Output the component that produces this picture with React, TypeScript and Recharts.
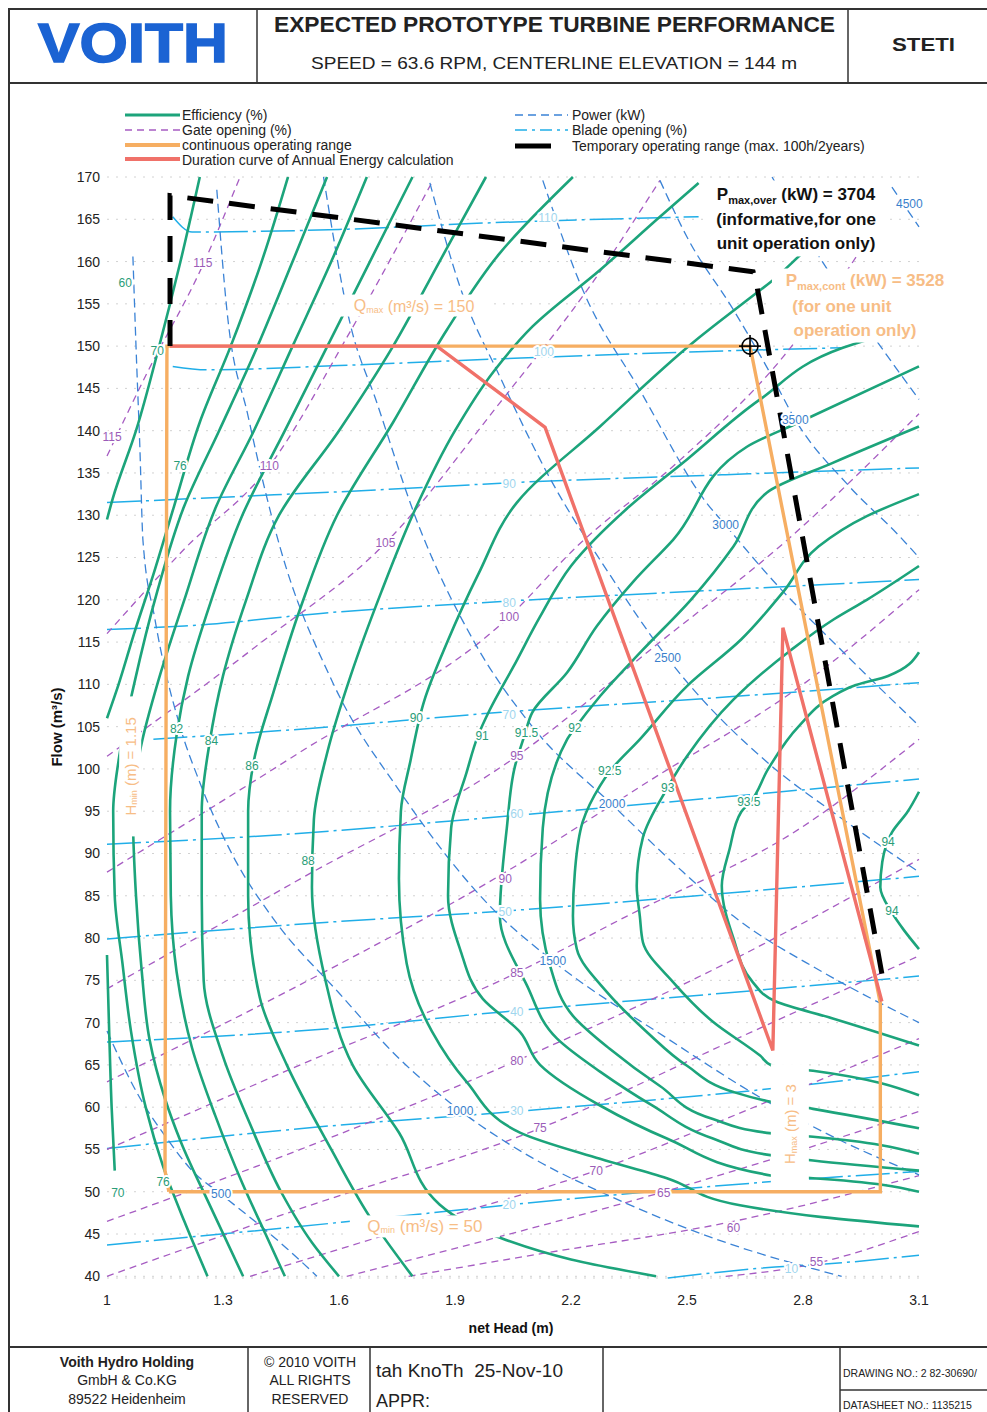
import React from 'react'
import {
  CartesianGrid,
  ComposedChart,
  Line,
  ReferenceDot,
  Scatter,
  XAxis,
  YAxis,
} from 'recharts'

type P = [number, number] // [net head (m), flow (m3/s)]

const headTicks = [1, 1.3, 1.6, 1.9, 2.2, 2.5, 2.8, 3.1]
const flowTicks = [40, 45, 50, 55, 60, 65, 70, 75, 80, 85, 90, 95, 100, 105, 110, 115, 120, 125, 130, 135, 140, 145, 150, 155, 160, 165, 170]

// efficiency contours (%)
const eff70a: P[] = [[1.24, 170], [1.19, 160], [1.135, 150], [1.075, 140], [1.015, 132], [1.0, 129.5]]
const eff70b: P[] = [[1.0, 78], [1.005, 70], [1.012, 60], [1.02, 52.5]]
const eff76: P[] = [[1.468, 170], [1.4, 160], [1.32, 150], [1.24, 141], [1.173, 131], [1.12, 123], [1.07, 116], [1.03, 110], [1.0, 106]]
const eff78: P[] = [[1.569, 170], [1.48, 160], [1.38, 149], [1.29, 140], [1.199, 131], [1.13, 121], [1.07, 110], [1.03, 101], [1.016, 95], [1.02, 85], [1.04, 77], [1.062, 69], [1.1, 60], [1.145, 53], [1.2, 46.5], [1.26, 40]]
const eff80: P[] = [[1.672, 170], [1.58, 160], [1.48, 150], [1.38, 140], [1.282, 131], [1.2, 120], [1.13, 110], [1.085, 102], [1.067, 95], [1.075, 85], [1.09, 76], [1.11, 68], [1.15, 61], [1.19, 56], [1.27, 48], [1.352, 40]]
const eff82: P[] = [[1.79, 170], [1.68, 160], [1.57, 150], [1.46, 140], [1.35, 130], [1.27, 120], [1.21, 111], [1.18, 104], [1.163, 95], [1.165, 85], [1.18, 76], [1.22, 67], [1.28, 59], [1.35, 51], [1.41, 45], [1.46, 40]]
const eff84: P[] = [[1.98, 170], [1.86, 160], [1.74, 150], [1.6, 140], [1.445, 130], [1.36, 120], [1.3, 111], [1.265, 103], [1.245, 95], [1.245, 85], [1.25, 75], [1.3, 66], [1.37, 58], [1.45, 50], [1.53, 44], [1.6, 40]]
const eff86: P[] = [[2.205, 170], [2.016, 161], [1.88, 152], [1.74, 141], [1.595, 130], [1.5, 119], [1.43, 109], [1.38, 101], [1.365, 95], [1.365, 85], [1.395, 73], [1.465, 65], [1.58, 55], [1.68, 47], [1.79, 40]]
const eff88: P[] = [[2.53, 169.3], [2.43, 165.3], [2.275, 159], [2.1, 152.3], [2.0, 147], [1.9, 140], [1.8, 131], [1.71, 121], [1.63, 111], [1.57, 102], [1.535, 94], [1.53, 86], [1.565, 75], [1.635, 65], [1.755, 57], [1.86, 48.5], [2.02, 44.5], [2.2, 42], [2.42, 40]]
const eff90: P[] = [[3.0, 166.5], [2.9, 164.3], [2.714, 157.5], [2.515, 150.4], [2.275, 140.5], [2.06, 131.5], [1.96, 123], [1.88, 115], [1.82, 108], [1.785, 101], [1.76, 95], [1.755, 87], [1.775, 77], [1.84, 69], [1.93, 63], [2.068, 57], [2.275, 53.9], [2.448, 51.6], [2.637, 48.4], [2.85, 47], [3.1, 45.9]]
const eff91: P[] = [[3.1, 152.5], [2.903, 149.8], [2.689, 143.7], [2.5, 136.6], [2.35, 131], [2.2, 124], [2.12, 118], [2.05, 112], [1.99, 107], [1.96, 104], [1.93, 99.6], [1.89, 93], [1.882, 85], [1.913, 78.7], [1.972, 72.8], [2.068, 68.9], [2.12, 65], [2.275, 60.2], [2.448, 56.3], [2.72, 51.9], [2.826, 51.6], [3.1, 50]]
const eff915: P[] = [[3.1, 147.6], [2.79, 141], [2.655, 138.1], [2.464, 127.1], [2.36, 122.1], [2.267, 116.9], [2.19, 111.4], [2.1, 106.7], [2.08, 104], [2.055, 100.3], [2.034, 93], [2.016, 82.6], [2.086, 74.4], [2.164, 68.1], [2.275, 64.2], [2.41, 60.2], [2.567, 56.3], [2.72, 54.3], [2.826, 53.7], [3.1, 52.5]]
const eff92: P[] = [[3.1, 140.5], [2.877, 136.2], [2.707, 132.7], [2.62, 126.3], [2.51, 120], [2.386, 114.1], [2.275, 108.6], [2.21, 104.8], [2.19, 103.5], [2.127, 93], [2.12, 84.6], [2.146, 76.7], [2.205, 70.8], [2.3, 66.9], [2.43, 62.5], [2.567, 58.6], [2.72, 56.9], [2.826, 56.5], [3.1, 54.5]]
const eff925: P[] = [[3.1, 132.5], [2.965, 129.9], [2.84, 126.3], [2.75, 121], [2.64, 115.3], [2.5, 109.8], [2.378, 103.5], [2.3, 99.7], [2.275, 98], [2.23, 93.7], [2.21, 87.8], [2.205, 82.6], [2.215, 78.7], [2.293, 73.6], [2.396, 68.9], [2.5, 64.9], [2.62, 61.8], [2.72, 60.6], [2.826, 59.8], [3.1, 57.5]]
const eff93: P[] = [[3.1, 124], [2.965, 120], [2.88, 117.7], [2.77, 114.1], [2.62, 108.2], [2.5, 101.5], [2.45, 97.8], [2.386, 91.9], [2.37, 86.2], [2.378, 82.6], [2.386, 79.5], [2.464, 74.8], [2.567, 70.1], [2.689, 66.1], [2.72, 64.9], [2.826, 64.3], [3.1, 61.4]]
const eff935: P[] = [[3.1, 113.8], [3.02, 111], [2.93, 109.8], [2.877, 108.6], [2.79, 105.1], [2.71, 100], [2.664, 96.1], [2.64, 94.9], [2.61, 90.5], [2.59, 86.2], [2.62, 80], [2.67, 74.8], [2.73, 72.5], [2.877, 70.5], [3.1, 67.3]]
const eff94: P[] = [[3.1, 97.3], [3.07, 94.9], [3.03, 92.5], [3.005, 89], [3.0, 86], [3.03, 83], [3.06, 81], [3.1, 78.7]]

// gate opening (%)
const gate55: P[] = [[2.6, 40], [2.82, 41.4], [3.1, 45.3]]
const gate60: P[] = [[1.78, 40], [2.1, 42.5], [2.62, 46.5], [3.1, 51.9]]
const gate65: P[] = [[1.62, 40], [2.0, 44.5], [2.44, 50], [2.8, 55], [3.1, 59.5]]
const gate70: P[] = [[1.37, 40], [1.8, 46], [2.265, 52.5], [2.7, 60.5], [3.1, 68.1]]
const gate75: P[] = [[1.0, 40], [1.5, 48], [2.12, 57.5], [2.6, 67.5], [3.1, 77.9]]
const gate80: P[] = [[1.0, 46.5], [1.5, 55], [2.06, 65.5], [2.6, 77], [3.1, 89.3]]
const gate85: P[] = [[1.0, 55], [1.5, 65], [2.06, 75.9], [2.345, 82.6], [2.79, 92.9], [3.1, 103.5]]
const gate90: P[] = [[1.0, 63], [1.5, 74.5], [2.02, 87.5], [2.41, 98.8], [2.8, 110], [3.1, 121.2]]
const gate95: P[] = [[1.0, 74], [1.5, 87], [2.05, 101.2], [2.43, 115], [2.76, 127.1], [3.1, 142]]
const gate100: P[] = [[1.0, 87.8], [1.5, 102], [2.04, 118], [2.215, 126.3], [2.474, 136.2], [2.748, 148.7], [2.9, 158], [3.0, 165]]
const gate105: P[] = [[1.0, 101.5], [1.4, 115], [1.72, 126.7], [2.016, 143.3], [2.26, 157.8], [2.43, 169.6]]
const gate110: P[] = [[1.0, 116], [1.2, 126], [1.42, 135.8], [1.62, 151], [1.843, 169.6]]
const gate115: P[] = [[1.0, 137], [1.1, 146.5], [1.25, 159.8], [1.344, 170]]

// power (kW)
const pow500: P[] = [[1.0, 69], [1.08, 61.5], [1.155, 56.3], [1.22, 52.5], [1.295, 49.7], [1.396, 46], [1.465, 43.3], [1.543, 40]]
const pow1000: P[] = [[1.067, 160.6], [1.075, 150], [1.085, 138], [1.093, 127], [1.124, 117.7], [1.189, 105], [1.24, 98.4], [1.326, 89.7], [1.43, 82.3], [1.6, 73.5], [1.75, 66], [1.913, 59.6], [2.1, 54], [2.3, 49.5], [2.6, 44], [2.9, 40]]
const pow1500: P[] = [[1.284, 168.5], [1.31, 154.3], [1.365, 141.7], [1.447, 126.3], [1.584, 110.2], [1.758, 97.3], [1.99, 83.8], [2.153, 77.3], [2.45, 68.1], [2.71, 60.6], [2.9, 56], [3.1, 52]]
const pow2000: P[] = [[1.56, 170], [1.628, 152.8], [1.698, 143.3], [1.8, 129.5], [1.95, 115], [2.1, 105], [2.306, 95.8], [2.49, 87.8], [2.62, 82.6], [2.85, 76], [3.1, 70]]
const pow2500: P[] = [[1.835, 169.3], [1.913, 157], [2.016, 146.4], [2.15, 134], [2.3, 123], [2.45, 113.1], [2.72, 100.3], [2.877, 94.9], [3.1, 87.8]]
const pow3000: P[] = [[2.127, 169.6], [2.23, 156.7], [2.378, 144.8], [2.55, 131.5], [2.6, 128.8], [2.72, 122.4], [2.9, 114], [3.1, 105.1]]
const pow3500: P[] = [[2.43, 169.6], [2.5, 162.9], [2.62, 154.3], [2.72, 146.4], [2.78, 141.3], [2.92, 133.4], [3.05, 127.5], [3.1, 125]]
const pow4000: P[] = [[2.72, 170], [2.85, 160], [3.0, 150], [3.1, 143.7]]
const pow4500: P[] = [[3.03, 168.8], [3.1, 164.1]]

// blade opening (%)
const blade10: P[] = [[2.45, 39.8], [2.76, 41.2], [2.84, 41.4], [3.1, 42.5]]
const blade20: P[] = [[1.0, 43.7], [1.63, 46.5], [2.03, 48.4], [2.72, 51.2], [3.1, 52.4]]
const blade30: P[] = [[1.0, 55.1], [1.58, 57.8], [2.03, 59.4], [2.72, 62.2], [3.1, 64.2]]
const blade40: P[] = [[1.0, 67.7], [1.58, 69.3], [2.03, 71.3], [2.6, 73.5], [3.1, 75.5]]
const blade50: P[] = [[1.0, 79.9], [1.58, 81.9], [2.03, 83.2], [2.6, 85.3], [3.1, 87.3]]
const blade60: P[] = [[1.0, 91.1], [1.41, 92.1], [2.03, 94.4], [2.6, 96.7], [3.1, 98.8]]
const blade70: P[] = [[1.12, 103.5], [1.5, 104.7], [2.02, 106.7], [2.6, 108.5], [3.1, 110.2]]
const blade80: P[] = [[1.0, 116.5], [1.2, 116.9], [1.58, 118.5], [2.02, 119.8], [2.6, 121.2], [3.1, 122.4]]
const blade90: P[] = [[1.0, 131.5], [1.33, 132.2], [1.7, 133], [2.07, 133.9], [2.6, 134.8], [3.1, 135.6]]
const blade100: P[] = [[1.17, 147.6], [1.26, 147.2], [1.6, 147.7], [2.07, 148.6], [2.5, 149.3], [2.9, 149.8]]
const blade110: P[] = [[1.17, 165.3], [1.22, 163.5], [1.6, 163.8], [2.0, 164.6], [2.53, 165.3]]

// operating ranges
const contRange: P[] = [[1.16, 50], [1.15, 52.5], [1.155, 150], [2.663, 150], [3.0, 72.3], [3.0, 50], [1.16, 50]]
const tempRange: P[] = [[1.163, 150], [1.163, 167.8], [2.671, 158.8], [2.68, 157.3], [3.004, 75.8]]
const durationCurve: P[] = [[1.163, 150], [1.853, 150], [2.133, 140.4], [2.722, 66.7], [2.748, 116.7], [3.004, 72.5]]

// contour labels
const effLabels = [
  { h: 1.13, q: 149.4, t: '70' }, { h: 1.189, q: 135.8, t: '76' }, { h: 1.18, q: 104.7, t: '82' },
  { h: 1.27, q: 103.3, t: '84' }, { h: 1.375, q: 100.3, t: '86' }, { h: 1.52, q: 89.1, t: '88' },
  { h: 1.8, q: 106, t: '90' }, { h: 1.97, q: 103.9, t: '91' }, { h: 2.085, q: 104.3, t: '91.5' },
  { h: 2.21, q: 104.8, t: '92' }, { h: 2.3, q: 99.7, t: '92.5' }, { h: 2.45, q: 97.8, t: '93' },
  { h: 2.66, q: 96.1, t: '93.5' }, { h: 3.02, q: 91.4, t: '94' }, { h: 3.03, q: 83.2, t: '94' },
  { h: 1.028, q: 49.8, t: '70' }, { h: 1.145, q: 51.2, t: '76' }, { h: 1.047, q: 157.5, t: '60' },
]
const gateLabels = [
  { h: 1.013, q: 139.3, t: '115' }, { h: 1.248, q: 159.8, t: '115' }, { h: 1.42, q: 135.8, t: '110' },
  { h: 1.72, q: 126.7, t: '105' }, { h: 2.04, q: 118, t: '100' }, { h: 2.06, q: 101.5, t: '95' },
  { h: 2.03, q: 87, t: '90' }, { h: 2.06, q: 75.9, t: '85' }, { h: 2.06, q: 65.5, t: '80' },
  { h: 2.12, q: 57.5, t: '75' }, { h: 2.265, q: 52.5, t: '70' }, { h: 2.44, q: 49.8, t: '65' },
  { h: 2.62, q: 45.7, t: '60' }, { h: 2.835, q: 41.7, t: '55' },
]
const powerLabels = [
  { h: 1.295, q: 49.7, t: '500' }, { h: 1.913, q: 59.6, t: '1000' }, { h: 2.153, q: 77.3, t: '1500' },
  { h: 2.306, q: 95.8, t: '2000' }, { h: 2.45, q: 113.1, t: '2500' }, { h: 2.6, q: 128.8, t: '3000' },
  { h: 2.78, q: 141.3, t: '3500' }, { h: 3.075, q: 166.8, t: '4500' },
]
const bladeLabels = [
  { h: 2.14, q: 165.2, t: '110' }, { h: 2.13, q: 149.3, t: '100' }, { h: 2.04, q: 133.7, t: '90' },
  { h: 2.04, q: 119.6, t: '80' }, { h: 2.04, q: 106.4, t: '70' }, { h: 2.06, q: 94.7, t: '60' },
  { h: 2.03, q: 83.1, t: '50' }, { h: 2.06, q: 71.3, t: '40' }, { h: 2.06, q: 59.6, t: '30' },
  { h: 2.04, q: 48.4, t: '20' }, { h: 2.77, q: 40.9, t: '10' },
]

const effCurves = [eff70a, eff70b, eff76, eff78, eff80, eff82, eff84, eff86, eff88, eff90, eff91, eff915, eff92, eff925, eff93, eff935, eff94]
const gateCurves = [gate55, gate60, gate65, gate70, gate75, gate80, gate85, gate90, gate95, gate100, gate105, gate110, gate115]
const powerCurves = [pow500, pow1000, pow1500, pow2000, pow2500, pow3000, pow3500, pow4000, pow4500]
const bladeCurves = [blade10, blade20, blade30, blade40, blade50, blade60, blade70, blade80, blade90, blade100, blade110]

const FONT = '"Liberation Sans", Arial, Helvetica, sans-serif'
const GREEN = '#1ca47b'
const PURPLE = '#a65cc2'
const BLUE = '#3b83d6'
const CYAN = '#20aee8'
const ORANGE = '#f6ae62'
const ORANGE_TXT = '#f7bd86'
const RED = '#f07169'

const toPts = (a: P[]) => a.map(([h, q]) => ({ h, q }))

const textShape = (fill: string, size: number) => (props: any) => (
  <text
    x={props.cx}
    y={props.cy}
    textAnchor="middle"
    dominantBaseline="central"
    fill={fill}
    fontSize={size}
    fontFamily={FONT}
    stroke="#fff"
    strokeWidth={4}
    strokeLinejoin="round"
    style={{ paintOrder: 'stroke' }}
  >
    {props.payload.t}
  </text>
)

const Sheet = () => (
  <svg width={987} height={1412} style={{ position: 'absolute', left: 0, top: 0 }} fontFamily={FONT}>
    {/* frame */}
    <g stroke="#333" strokeWidth={2}>
      <line x1={8} y1={9} x2={987} y2={9} />
      <line x1={9} y1={8} x2={9} y2={1412} />
      <line x1={8} y1={83} x2={987} y2={83} />
      <line x1={257} y1={9} x2={257} y2={83} strokeWidth={1.5} />
      <line x1={848} y1={9} x2={848} y2={83} strokeWidth={1.5} />
      <line x1={8} y1={1347} x2={987} y2={1347} />
      <line x1={248} y1={1347} x2={248} y2={1412} strokeWidth={1.5} />
      <line x1={370} y1={1347} x2={370} y2={1412} strokeWidth={1.5} />
      <line x1={603} y1={1347} x2={603} y2={1412} strokeWidth={1.5} />
      <line x1={840} y1={1347} x2={840} y2={1412} strokeWidth={1.5} />
      <line x1={840} y1={1390} x2={987} y2={1390} strokeWidth={1.5} />
    </g>

    {/* header */}
    <text x={38} y={62} fontSize={55} fontWeight="bold" fill="#1b63d3" stroke="#1b63d3" strokeWidth={1.5} textLength={190} lengthAdjust="spacingAndGlyphs">VOITH</text>
    <text x={274} y={32} fontSize={22} fontWeight="bold" fill="#222" textLength={561} lengthAdjust="spacingAndGlyphs">EXPECTED PROTOTYPE TURBINE PERFORMANCE</text>
    <text x={311} y={69} fontSize={17} fill="#222" textLength={486} lengthAdjust="spacingAndGlyphs">SPEED = 63.6 RPM, CENTERLINE ELEVATION = 144 m</text>
    <text x={892} y={51} fontSize={19} fontWeight="bold" fill="#222" textLength={63} lengthAdjust="spacingAndGlyphs">STETI</text>

    {/* legend */}
    <line x1={125} x2={180} y1={115} y2={115} stroke={GREEN} strokeWidth={3} />
    <line x1={125} x2={180} y1={130} y2={130} stroke={PURPLE} strokeWidth={1.5} strokeDasharray="7 5" />
    <line x1={125} x2={180} y1={145} y2={145} stroke={ORANGE} strokeWidth={4} />
    <line x1={125} x2={180} y1={159} y2={159} stroke={RED} strokeWidth={4} />
    <g fontSize={14} fill="#222">
      <text x={182} y={120}>Efficiency (%)</text>
      <text x={182} y={135}>Gate opening (%)</text>
      <text x={182} y={150}>continuous operating range</text>
      <text x={182} y={165}>Duration curve of Annual Energy calculation</text>
      <text x={572} y={120}>Power (kW)</text>
      <text x={572} y={135}>Blade opening (%)</text>
      <text x={572} y={151}>Temporary operating range (max. 100h/2years)</text>
    </g>
    <line x1={515} x2={568} y1={115} y2={115} stroke={BLUE} strokeWidth={1.5} strokeDasharray="8 5" />
    <line x1={515} x2={568} y1={130} y2={130} stroke={CYAN} strokeWidth={1.5} strokeDasharray="12 5 3 5" />
    <line x1={515} x2={551} y1={146} y2={146} stroke="#000" strokeWidth={5} />

    {/* axis titles */}
    <text x={62} y={727} fontSize={15} fontWeight="bold" fill="#111" textAnchor="middle" transform="rotate(-90 62 727)">Flow (m³/s)</text>
    <text x={511} y={1333} fontSize={14} fontWeight="bold" fill="#111" textAnchor="middle">net Head (m)</text>

    {/* footer */}
    <g fontSize={14} fill="#222" textAnchor="middle">
      <text x={127} y={1367} fontWeight="bold">Voith Hydro Holding</text>
      <text x={127} y={1385}>GmbH &amp; Co.KG</text>
      <text x={127} y={1404}>89522 Heidenheim</text>
      <text x={310} y={1367}>© 2010 VOITH</text>
      <text x={310} y={1385}>ALL RIGHTS</text>
      <text x={310} y={1404}>RESERVED</text>
    </g>
    <text x={376} y={1377} fontSize={19} fill="#222">tah KnoTh{'\u00a0\u00a0'}25-Nov-10</text>
    <text x={376} y={1407} fontSize={18} fill="#222">APPR:</text>
    <text x={843} y={1377} fontSize={10.5} fill="#222">DRAWING NO.: 2 82-30690/</text>
    <text x={843} y={1409} fontSize={10.5} fill="#222">DATASHEET NO.: 1135215</text>
  </svg>
)

const boxText = (w: number, hgt: number, content: React.ReactNode, rotate = false) => (p: any) => (
  <g transform={rotate ? `rotate(-90 ${p.cx} ${p.cy})` : undefined}>
    <rect x={p.cx - w / 2} y={p.cy - hgt / 2} width={w} height={hgt} fill="#fff" />
    <g transform={`translate(${p.cx} ${p.cy})`}>{content}</g>
  </g>
)

export default function App() {
  return (
    <div style={{ position: 'absolute', left: 0, top: 0, width: 987, height: 1412, background: '#fff', overflow: 'hidden' }}>
      <Sheet />
      <div style={{ position: 'absolute', left: 0, top: 0 }}>
        <ComposedChart width={987} height={1340} margin={{ top: 177, right: 68, bottom: 22, left: 67 }}>
          <CartesianGrid vertical={false} stroke="#d2d2d2" strokeDasharray="2 7" />
          <XAxis
            type="number"
            dataKey="h"
            domain={[1, 3.1]}
            ticks={headTicks}
            interval={0}
            axisLine={false}
            tickLine={false}
            tickSize={0}
            tickMargin={17}
            height={40}
            tick={{ fontSize: 14, fill: '#222', fontFamily: FONT }}
          />
          <YAxis
            type="number"
            dataKey="q"
            domain={[40, 170]}
            ticks={flowTicks}
            interval={0}
            axisLine={false}
            tickLine={false}
            tickSize={0}
            tickMargin={7}
            width={40}
            tick={{ fontSize: 14, fill: '#222', fontFamily: FONT }}
          />

          {bladeCurves.map((c, i) => (
            <Line key={'b' + i} data={toPts(c)} dataKey="q" type="monotone" stroke={CYAN} strokeWidth={1.5}
              strokeDasharray="34 5 3 5" dot={false} activeDot={false} isAnimationActive={false} />
          ))}
          {gateCurves.map((c, i) => (
            <Line key={'g' + i} data={toPts(c)} dataKey="q" type="monotone" stroke={PURPLE} strokeWidth={1.3}
              strokeDasharray="7 5" dot={false} activeDot={false} isAnimationActive={false} />
          ))}
          {powerCurves.map((c, i) => (
            <Line key={'p' + i} data={toPts(c)} dataKey="q" type="monotone" stroke={BLUE} strokeWidth={1.3}
              strokeDasharray="9 5" dot={false} activeDot={false} isAnimationActive={false} />
          ))}
          {effCurves.map((c, i) => (
            <Line key={'e' + i} data={toPts(c)} dataKey="q" type="monotoneY" stroke={GREEN} strokeWidth={2.6}
              dot={false} activeDot={false} isAnimationActive={false} />
          ))}

          <Scatter data={bladeLabels} dataKey="q" isAnimationActive={false} shape={textShape('#9fd6ee', 12)} />
          <Scatter data={gateLabels} dataKey="q" isAnimationActive={false} shape={textShape('#9b5cb8', 12)} />
          <Scatter data={powerLabels} dataKey="q" isAnimationActive={false} shape={textShape('#3a7fcc', 12)} />
          <Scatter data={effLabels} dataKey="q" isAnimationActive={false} shape={textShape('#2a9d78', 12)} />

          {/* annotation boxes */}
          <ReferenceDot x={1.794} y={154.8} r={1} ifOverflow="visible" shape={boxText(160, 22,
            <text textAnchor="middle" dominantBaseline="central" fontSize={16} fill={ORANGE_TXT} fontFamily={FONT}>
              Q<tspan fontSize={9} dy={4}>max</tspan><tspan dy={-4}> (m³/s) = 150</tspan>
            </text>)} />
          <ReferenceDot x={1.822} y={45.9} r={1} ifOverflow="visible" shape={boxText(150, 22,
            <text textAnchor="middle" dominantBaseline="central" fontSize={17} fill={ORANGE_TXT} fontFamily={FONT}>
              Q<tspan fontSize={9} dy={4}>min</tspan><tspan dy={-4}> (m³/s) = 50</tspan>
            </text>)} />
          <ReferenceDot x={1.06} y={100.3} r={1} ifOverflow="visible" shape={boxText(140, 22,
            <text textAnchor="middle" dominantBaseline="central" fontSize={15} fill={ORANGE_TXT} fontFamily={FONT}>
              H<tspan fontSize={9} dy={4}>min</tspan><tspan dy={-4}> (m) = 1.15</tspan>
            </text>, true)} />
          <ReferenceDot x={2.766} y={58} r={1} ifOverflow="visible" shape={boxText(120, 38,
            <text textAnchor="middle" dominantBaseline="central" fontSize={15} fill={ORANGE_TXT} fontFamily={FONT}>
              H<tspan fontSize={9} dy={4}>max</tspan><tspan dy={-4}> (m) = 3</tspan>
            </text>, true)} />
          <ReferenceDot x={2.782} y={165.1} r={1} ifOverflow="visible" shape={boxText(186, 76,
            <text textAnchor="middle" fontSize={17} fontWeight="bold" fill="#111" fontFamily={FONT}>
              <tspan x={0} y={-18}>P<tspan fontSize={11} dy={4}>max,over</tspan><tspan dy={-4}> (kW) = 3704</tspan></tspan>
              <tspan x={0} y={7}>(informative,for one</tspan>
              <tspan x={0} y={31}>unit operation only)</tspan>
            </text>)} />
          <ReferenceDot x={2.955} y={154.8} r={1} ifOverflow="visible" shape={boxText(182, 74,
            <text textAnchor="middle" fontSize={17} fontWeight="bold" fill={ORANGE_TXT} fontFamily={FONT}>
              <tspan x={2} y={-20}>P<tspan fontSize={11} dy={4}>max,cont</tspan><tspan dy={-4}> (kW) = 3528</tspan></tspan>
              <tspan x={-21} y={6}>(for one unit</tspan>
              <tspan x={-8} y={30}>operation only)</tspan>
            </text>)} />

          <Line data={toPts(contRange)} dataKey="q" type="linear" stroke={ORANGE} strokeWidth={3.4}
            dot={false} activeDot={false} isAnimationActive={false} />
          <Line data={toPts(durationCurve)} dataKey="q" type="linear" stroke={RED} strokeWidth={3.4}
            dot={false} activeDot={false} isAnimationActive={false} />
          <Line data={toPts(tempRange)} dataKey="q" type="linear" stroke="#000" strokeWidth={5}
            strokeDasharray="26 16" dot={false} activeDot={false} isAnimationActive={false} />

          <ReferenceDot x={2.663} y={150} r={8} ifOverflow="visible" shape={(p: any) => (
            <g stroke="#000" strokeWidth={1.6} fill="none">
              <circle cx={p.cx} cy={p.cy} r={8} />
              <line x1={p.cx - 11} y1={p.cy} x2={p.cx + 11} y2={p.cy} />
              <line x1={p.cx} y1={p.cy - 11} x2={p.cx} y2={p.cy + 11} />
            </g>
          )} />
        </ComposedChart>
      </div>
    </div>
  )
}
